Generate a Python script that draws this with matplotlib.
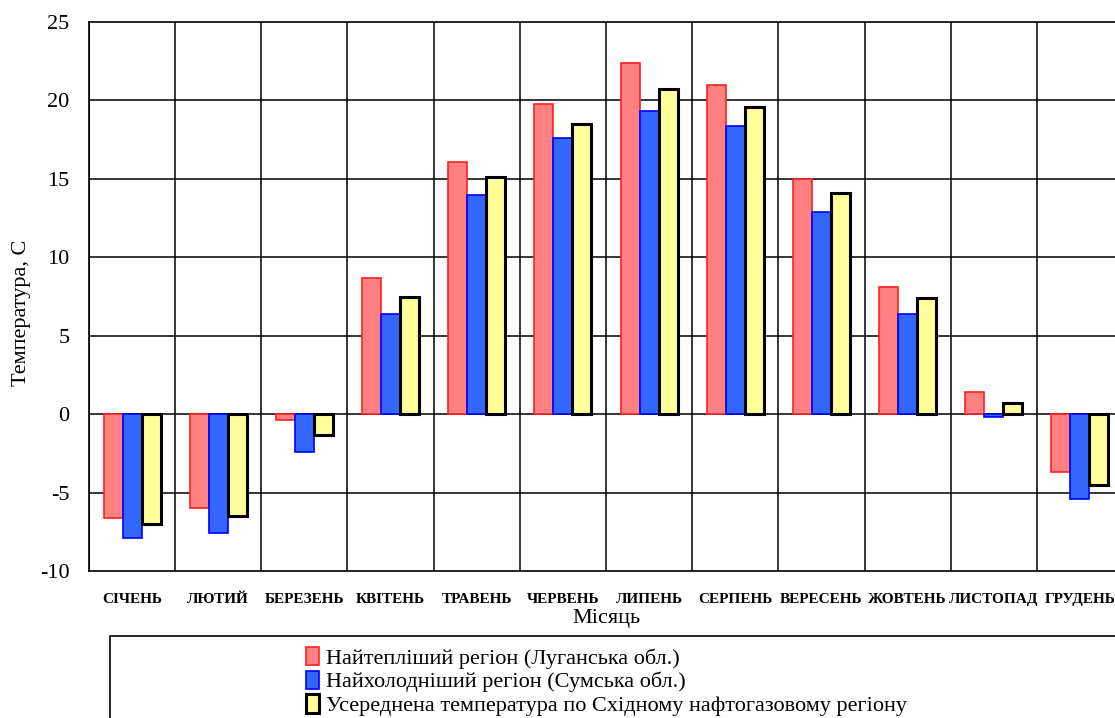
import numpy as np
import matplotlib.pyplot as plt
from matplotlib.patches import Rectangle

plt.rcParams['font.family'] = ['Liberation Serif', 'DejaVu Serif']
plt.rcParams['axes.unicode_minus'] = False

months = ["СІЧЕНЬ", "ЛЮТИЙ", "БЕРЕЗЕНЬ", "КВІТЕНЬ", "ТРАВЕНЬ", "ЧЕРВЕНЬ",
          "ЛИПЕНЬ", "СЕРПЕНЬ", "ВЕРЕСЕНЬ", "ЖОВТЕНЬ", "ЛИСТОПАД", "ГРУДЕНЬ"]

warm = [-6.6, -6.0, -0.4, 8.7, 16.1, 19.8, 22.4, 21.0, 15.0, 8.1, 1.4, -3.7]
cold = [-7.9, -7.6, -2.4, 6.4, 14.0, 17.6, 19.3, 18.4, 12.9, 6.4, -0.2, -5.4]
avg = [-7.0, -6.5, -1.3, 7.5, 15.1, 18.5, 20.7, 19.6, 14.1, 7.4, 0.7, -4.5]

labels = ["Найтепліший регіон (Луганська обл.)",
          "Найхолодніший регіон (Сумська обл.)",
          "Усереднена температура по Східному нафтогазовому регіону"]

W, H = 1115, 718
fig = plt.figure(figsize=(W / 100, H / 100), dpi=100)
# plot area runs a little past the right edge of the figure
ax = fig.add_axes([89 / W, 1 - 571 / H, (1123 - 89) / W, (571 - 22) / H])

x = np.arange(len(months))
bw = 0.22
b1 = ax.bar(x - bw, warm, bw, color='#FF8080', edgecolor='#FF2020', linewidth=1.2, label=labels[0])
b2 = ax.bar(x, cold, bw, color='#3366FF', edgecolor='#0000FF', linewidth=1.2, label=labels[1])
b3 = ax.bar(x + bw, avg, bw, color='#FFFF99', edgecolor='black', linewidth=2.2, label=labels[2])

ax.set_xlim(-0.5, len(months) - 0.5)
ax.set_ylim(-10, 25)
ax.set_yticks(range(-10, 26, 5))
ax.set_xticks(x)
ax.set_xticklabels(months, fontsize=11, fontweight='bold')
ax.tick_params(axis='both', length=0)
ax.tick_params(axis='y', labelsize=16, pad=14)
ax.tick_params(axis='x', pad=16)

# vertical separators between months and horizontal grid
for xv in np.arange(-0.5, len(months), 1.0):
    ax.axvline(xv, color='black', linewidth=1.1, zorder=0.5)
for yv in range(-5, 25, 5):
    ax.axhline(yv, color='black', linewidth=1.1, zorder=0.5)
for s in ax.spines.values():
    s.set_linewidth(1.2)

ax.set_xlabel("Місяць", fontsize=16, labelpad=2)
ax.set_ylabel("Температура, С", fontsize=16, labelpad=10)
ax.yaxis.set_label_coords(-0.056, 0.47)

fig.patches.append(Rectangle((110 / W, -0.05), 1.0, (718 - 636) / H + 0.05,
                             transform=fig.transFigure, facecolor='white',
                             edgecolor='black', linewidth=1.2))
fig.legend(handles=[b1, b2, b3], loc='upper left', bbox_to_anchor=(297 / W, 1 - 638 / H),
           frameon=False, fontsize=16, handlelength=0.6, handleheight=0.9,
           handletextpad=0.3, labelspacing=0.08, borderaxespad=0)

fig.savefig("out.png", dpi=100)
